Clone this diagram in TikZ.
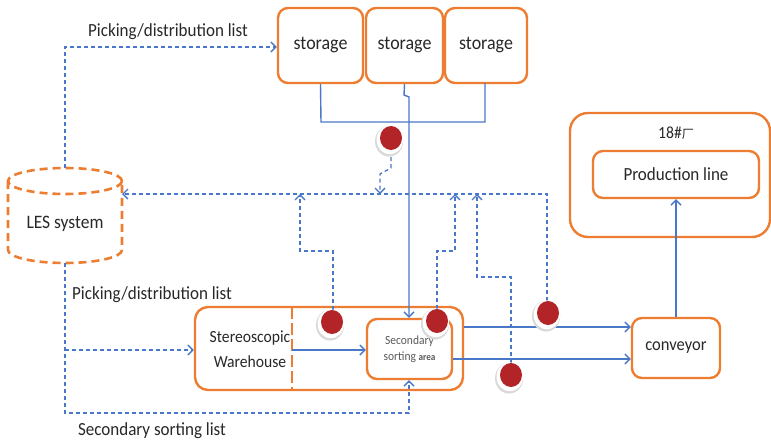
\documentclass[tikz,border=0pt]{standalone}
\usepackage{fontspec}
\setmainfont{Carlito}[FakeStretch=0.92]
\newfontfamily\cjk{Noto Sans CJK SC}
\usetikzlibrary{arrows.meta,shapes.geometric,shadows}
\definecolor{boxorange}{RGB}{237,125,49}
\definecolor{flowblue}{RGB}{74,120,200}
\definecolor{dotred}{RGB}{178,36,40}
\definecolor{txtgray}{RGB}{40,40,40}
\definecolor{softgray}{RGB}{90,90,90}
\pgfdeclarelayer{boxes}
\pgfdeclarelayer{conn}
\pgfsetlayers{boxes,conn,main}
\begin{document}
\begin{tikzpicture}[x=1pt,y=-1pt,
  box/.style={draw=boxorange, line width=2.4pt, rounded corners=10pt, fill=white,
    text=txtgray, font=\fontsize{18.5}{20}\selectfont, inner sep=0pt},
  flow/.style={draw=flowblue, line width=1.4pt, -{Straight Barb[length=5pt,width=10pt]}},
  flowplain/.style={draw=flowblue, line width=1.4pt},
  info/.style={draw=flowblue, line width=1.3pt, dash pattern=on 4pt off 3pt,
    -{Straight Barb[length=5pt,width=10pt]}},
  lesline/.style={draw=boxorange, line width=2.6pt, dash pattern=on 8pt off 5pt},
  lbl/.style={text=txtgray, font=\fontsize{18.5}{20}\selectfont, inner sep=0pt},
  sensor/.style={ellipse, fill=dotred, minimum width=22pt, minimum height=24pt, inner sep=0pt,
    general shadow={fill=black!15, shadow xshift=-1.5pt, shadow yshift=-2.5pt, shadow scale=1.28},
    general shadow={fill=white, shadow xshift=-1pt, shadow yshift=-1.5pt, shadow scale=1.2}},
]
\useasboundingbox (0,0) rectangle (771,442);

\begin{pgfonlayer}{boxes}
  % storage boxes
  \node[box, font=\fontsize{19.5}{20}\selectfont, minimum width=85pt, minimum height=75pt] (st1) at (320.5,45.5) {storage};
  \node[box, font=\fontsize{19.5}{20}\selectfont, minimum width=77pt, minimum height=75pt] (st2) at (404.5,45.5) {storage};
  \node[box, font=\fontsize{19.5}{20}\selectfont, minimum width=82pt, minimum height=75pt] (st3) at (486,45.5) {storage};

  % LES system drawn as a dashed cylinder
  \node[minimum width=114pt, minimum height=95pt, inner sep=0pt] (les) at (65,215.5) {};
  \draw[lesline] (65,181) ellipse [x radius=57, y radius=13];
  \draw[lesline] (8,181) -- (8,250) arc [start angle=180, end angle=360, x radius=57, y radius=-13] -- (122,181);
  \node[lbl, font=\fontsize{19}{20}\selectfont] (lestxt) at (65,224) {LES system};

  % factory with its production line
  \node[box, rounded corners=18pt, minimum width=200pt, minimum height=124pt] (fac) at (670,175) {};
  \node[lbl, font=\fontsize{17}{20}\selectfont] (faclbl) at (676,133) {18\#{\cjk\fontsize{12}{14}\selectfont 厂}};
  \node[box, minimum width=166pt, minimum height=47pt] (pl) at (676,174.5) {Production line};

  % stereoscopic warehouse with its secondary sorting area
  \node[box, rounded corners=13pt, minimum width=268pt, minimum height=83pt] (wh) at (329,348.5) {};
  \draw[draw=boxorange, line width=2.4pt, dash pattern=on 12pt off 4pt] (292,307) -- (292,390);
  \node[lbl, align=center, font=\fontsize{17}{25}\selectfont] (whtxt) at (250,349) {Stereoscopic\\Warehouse};
  \node[box, minimum width=85pt, minimum height=60pt, align=center, text=softgray,
    font=\fontsize{12.5}{16}\selectfont] (sa) at (409.5,349)
    {Secondary\\sorting {\bfseries\fontsize{10}{16}\selectfont area}};

  % conveyor
  \node[box, font=\fontsize{18}{20}\selectfont, minimum width=88pt, minimum height=60pt] (cv) at (676,348) {conveyor};
\end{pgfonlayer}

% sensing points
\node[sensor] (d1) at (391,138) {};
\node[sensor] (d2) at (332,322) {};
\node[sensor] (d3) at (437,321) {};
\node[sensor] (d4) at (548,313) {};
\node[sensor] (d5) at (511,375) {};

\begin{pgfonlayer}{conn}
  % material flow
  \draw[flowplain] (st1.south) -- (321,122) -- (485,122) -- (485,83);
  \draw[flow] (st2.south) -- (404,95) -- (409,97) -- (sa.north -| 409,0);
  \draw[flow] (292,350) -- (sa.west |- 0,350);
  \draw[flow] (wh.east |- 0,327) -- (cv.west |- 0,327);
  \draw[flow] (sa.east |- 0,359) -- (cv.west |- 0,359);
  \draw[flow] (cv.north) -- (pl.south);

  % information flow from LES
  \coordinate (lesin) at (122,194);
  \draw[info] (les.north) -- (65,47) -- (st1.west |- 0,47);
  \draw[info] (les.south) -- (65,413) -- (409,413) -- (sa.south -| 409,0);
  \draw[info] (65,350) -- (wh.west |- 0,350);

  % feedback from sensing points to LES
  \draw[info] (d4.north -| 547,0) -- (547,194) -- (lesin);
  \draw[info] (d1.south) -- (391,168) -- (380,174) -- (380,194);
  \draw[info] (d2.north -| 333,0) -- (333,251) -- (300,251) -- (300,194);
  \draw[info] (d3.north) -- (437,251) -- (455,251) -- (455,194);
  \draw[info] (d5.north) -- (511,277) -- (477,277) -- (477,194);
\end{pgfonlayer}

% list labels
\node[lbl] (lbltop) at (168,32) {Picking/distribution list};
\node[lbl] (lblmid) at (152,295) {Picking/distribution list};
\node[lbl] (lblbot) at (152,431) {Secondary sorting list};
\end{tikzpicture}
\end{document}
